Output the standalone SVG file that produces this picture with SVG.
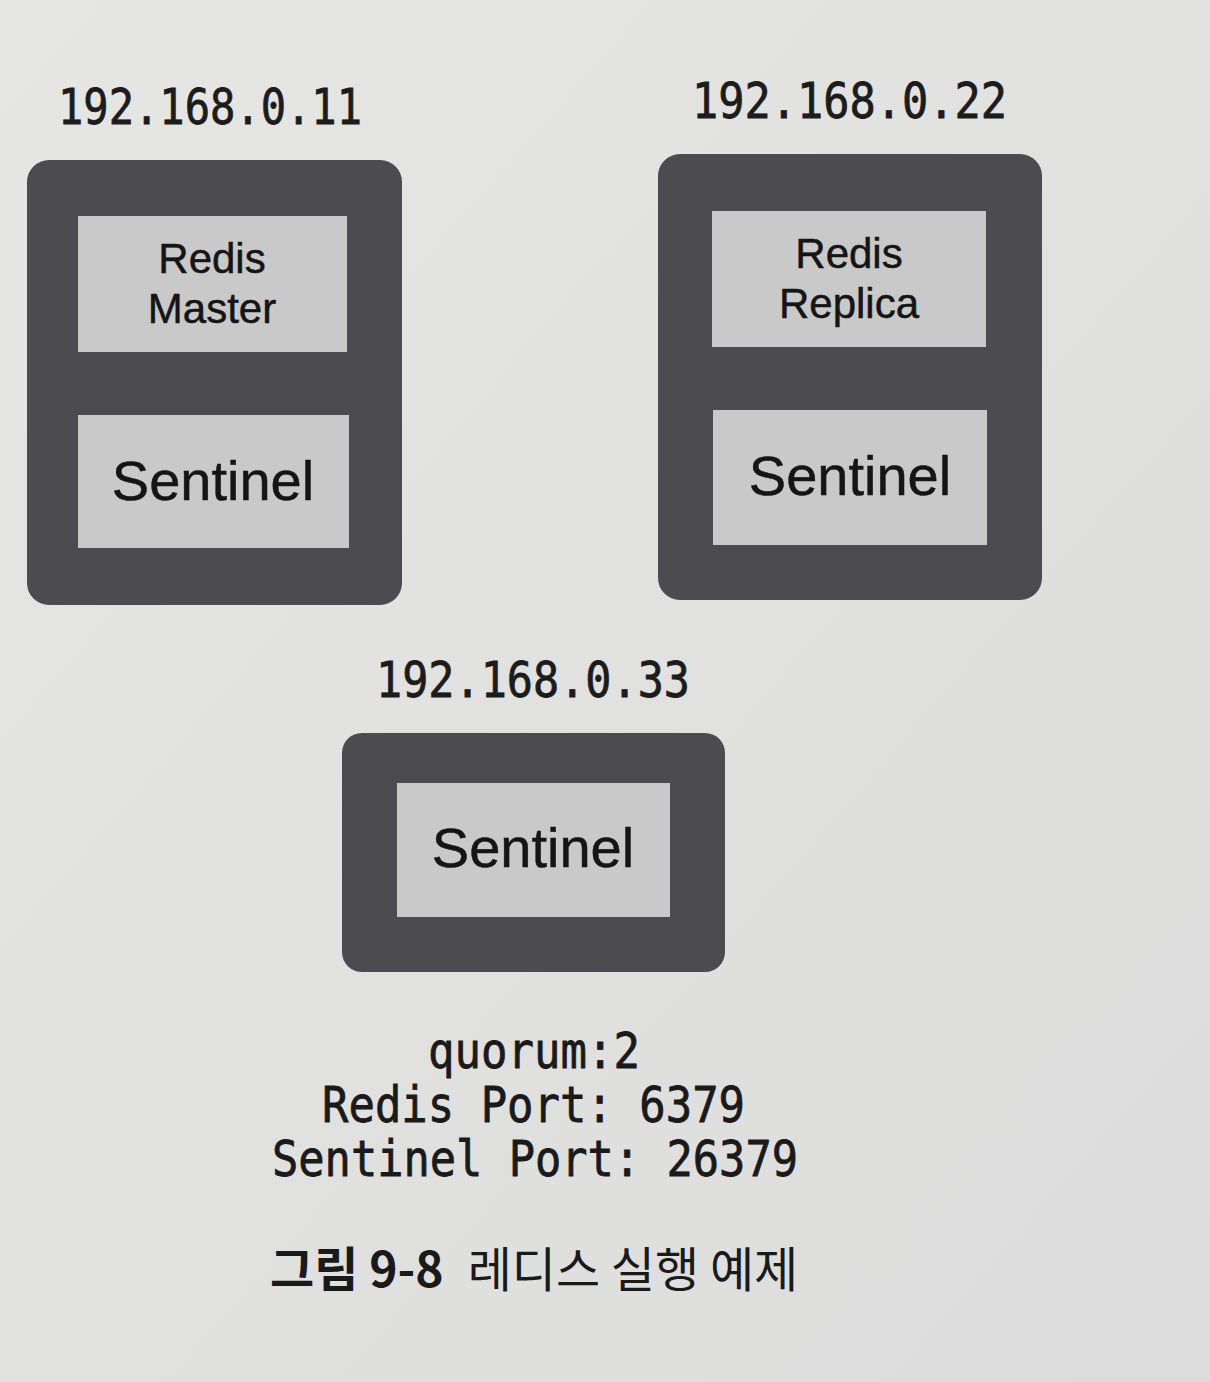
<svg xmlns="http://www.w3.org/2000/svg" width="1210" height="1382" viewBox="0 0 1210 1382">
<defs>
<linearGradient id="bg" x1="0" y1="0" x2="1" y2="1">
<stop offset="0" stop-color="#e6e6e4"/>
<stop offset="1" stop-color="#dcdcdc"/>
</linearGradient>
<style>
.host{fill:#4c4b50;}
.svc{fill:#c9c9ca;}
.ip{font-family:"DejaVu Sans Mono","Liberation Mono",monospace;font-size:50px;fill:#1c1c1c;stroke:#1c1c1c;stroke-width:0.8px;}
.lbl{font-family:"Liberation Sans","Arial",sans-serif;fill:#151515;text-anchor:middle;stroke:#151515;stroke-width:0.5px;}
.small{font-size:42px;}
.big{font-size:56px;}
.mono{font-family:"DejaVu Sans Mono","Liberation Mono",monospace;font-size:50px;fill:#1a1a1a;stroke:#1a1a1a;stroke-width:0.8px;}
.cap{font-family:"Noto Sans CJK KR","Noto Sans",sans-serif;font-size:48px;fill:#1a1a1a;}
</style>
</defs>
<rect width="1210" height="1382" fill="url(#bg)"/>

<g id="host-11">
<text class="ip" x="58" y="124" textLength="304" lengthAdjust="spacingAndGlyphs">192.168.0.11</text>
<rect class="host" x="27" y="160" width="375" height="445" rx="22"/>
<g id="redis-master">
<rect class="svc" x="78" y="216" width="269" height="136"/>
<text class="lbl small" x="212" y="273">Redis</text>
<text class="lbl small" x="212" y="323">Master</text>
</g>
<g id="sentinel-11">
<rect class="svc" x="78" y="415" width="271" height="133"/>
<text class="lbl big" x="213" y="500">Sentinel</text>
</g>
</g>

<g id="host-22">
<text class="ip" x="692" y="118" textLength="315" lengthAdjust="spacingAndGlyphs">192.168.0.22</text>
<rect class="host" x="658" y="154" width="384" height="446" rx="22"/>
<g id="redis-replica">
<rect class="svc" x="712" y="211" width="274" height="136"/>
<text class="lbl small" x="849" y="268">Redis</text>
<text class="lbl small" x="849" y="318">Replica</text>
</g>
<g id="sentinel-22">
<rect class="svc" x="713" y="410" width="274" height="135"/>
<text class="lbl big" x="850" y="495">Sentinel</text>
</g>
</g>

<g id="host-33">
<text class="ip" x="376" y="697" textLength="314" lengthAdjust="spacingAndGlyphs">192.168.0.33</text>
<rect class="host" x="342" y="733" width="383" height="239" rx="20"/>
<g id="sentinel-33">
<rect class="svc" x="397" y="783" width="273" height="134"/>
<text class="lbl big" x="533" y="867">Sentinel</text>
</g>
</g>

<g id="connectors"></g>

<g id="config">
<text class="mono" x="428" y="1068" textLength="212" lengthAdjust="spacingAndGlyphs">quorum:2</text>
<text class="mono" x="322" y="1122" textLength="423" lengthAdjust="spacingAndGlyphs">Redis Port: 6379</text>
<text class="mono" x="272" y="1176" textLength="526" lengthAdjust="spacingAndGlyphs">Sentinel Port: 26379</text>
</g>

<text class="cap" x="270" y="1287"><tspan font-weight="bold">그림 9-8</tspan><tspan dx="24">레디스 실행 예제</tspan></text>
</svg>
